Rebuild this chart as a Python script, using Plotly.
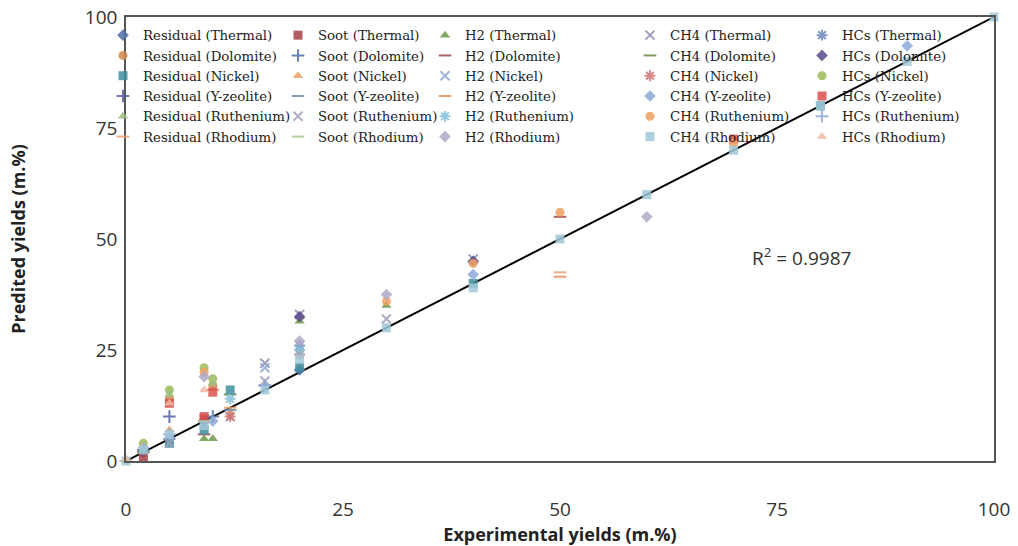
import plotly.graph_objects as go

catalysts = ["Thermal", "Dolomite", "Nickel", "Y-zeolite", "Ruthenium", "Rhodium"]
products = ["Residual", "Soot", "H2", "CH4", "HCs"]

# experimental (x) and predicted (y) yields per series, m.%
series_x = {
    "Residual (Thermal)": [9, 20, 2],
    "Soot (Thermal)": [2, 9],
    "H2 (Thermal)": [9, 10, 20, 30],
    "CH4 (Thermal)": [16, 20, 40],
    "HCs (Thermal)": [20, 5],
    "Residual (Dolomite)": [5, 10],
    "Soot (Dolomite)": [10, 2],
    "H2 (Dolomite)": [9, 50],
    "CH4 (Dolomite)": [2, 12],
    "HCs (Dolomite)": [20, 40],
    "Residual (Nickel)": [5, 9, 12, 20, 40, 80],
    "Soot (Nickel)": [5, 12],
    "H2 (Nickel)": [16, 12],
    "CH4 (Nickel)": [12, 20],
    "HCs (Nickel)": [2, 5, 9, 10],
    "Residual (Y-zeolite)": [5, 16],
    "Soot (Y-zeolite)": [5, 12],
    "H2 (Y-zeolite)": [50, 10],
    "CH4 (Y-zeolite)": [10, 40, 90],
    "HCs (Y-zeolite)": [5, 9, 10, 70],
    "Residual (Ruthenium)": [5, 10],
    "Soot (Ruthenium)": [5, 16, 30],
    "H2 (Ruthenium)": [12, 20],
    "CH4 (Ruthenium)": [9, 30, 40, 50, 70],
    "HCs (Ruthenium)": [16, 5],
    "Residual (Rhodium)": [0, 12, 50],
    "Soot (Rhodium)": [0, 9],
    "H2 (Rhodium)": [2, 9, 20, 30, 60],
    "CH4 (Rhodium)": [0, 2, 5, 9, 16, 20, 30, 40, 50, 60, 70, 80, 90, 100],
    "HCs (Rhodium)": [0, 9, 5],
}
series_y = {
    "Residual (Thermal)": [9, 20.5, 2],
    "Soot (Thermal)": [1, 9.5],
    "H2 (Thermal)": [5, 5, 31.5, 35],
    "CH4 (Thermal)": [22, 33, 45.5],
    "HCs (Thermal)": [26, 5],
    "Residual (Dolomite)": [14, 17],
    "Soot (Dolomite)": [10, 2.5],
    "H2 (Dolomite)": [6, 55],
    "CH4 (Dolomite)": [2, 15],
    "HCs (Dolomite)": [32.5, 45],
    "Residual (Nickel)": [4, 7, 16, 21, 40, 80],
    "Soot (Nickel)": [7, 11],
    "H2 (Nickel)": [21, 10],
    "CH4 (Nickel)": [10, 24],
    "HCs (Nickel)": [4, 16, 21, 18.5],
    "Residual (Y-zeolite)": [10, 17],
    "Soot (Y-zeolite)": [5, 11.5],
    "H2 (Y-zeolite)": [41.5, 16],
    "CH4 (Y-zeolite)": [9, 42, 93.5],
    "HCs (Y-zeolite)": [13, 10, 15.5, 72.5],
    "Residual (Ruthenium)": [15, 17.5],
    "Soot (Ruthenium)": [4, 18, 32],
    "H2 (Ruthenium)": [14, 25],
    "CH4 (Ruthenium)": [20, 36, 44.5, 56, 71.5],
    "HCs (Ruthenium)": [17, 6],
    "Residual (Rhodium)": [0, 12, 42.5],
    "Soot (Rhodium)": [0, 9],
    "H2 (Rhodium)": [3, 19, 27, 37.5, 55],
    "CH4 (Rhodium)": [0, 2.5, 6, 8, 16, 23, 30, 39, 50, 60, 70, 80, 90, 100],
    "HCs (Rhodium)": [0.5, 16, 13],
}

symbols = {
    "Residual (Thermal)": "diamond", "Soot (Thermal)": "square", "H2 (Thermal)": "triangle-up",
    "CH4 (Thermal)": "x-thin-open", "HCs (Thermal)": "asterisk-open",
    "Residual (Dolomite)": "circle", "Soot (Dolomite)": "cross-thin-open", "H2 (Dolomite)": "line-ew-open",
    "CH4 (Dolomite)": "line-ew-open", "HCs (Dolomite)": "diamond",
    "Residual (Nickel)": "square", "Soot (Nickel)": "triangle-up", "H2 (Nickel)": "x-thin-open",
    "CH4 (Nickel)": "asterisk-open", "HCs (Nickel)": "circle",
    "Residual (Y-zeolite)": "cross-thin-open", "Soot (Y-zeolite)": "line-ew-open", "H2 (Y-zeolite)": "line-ew-open",
    "CH4 (Y-zeolite)": "diamond", "HCs (Y-zeolite)": "square",
    "Residual (Ruthenium)": "triangle-up", "Soot (Ruthenium)": "x-thin-open", "H2 (Ruthenium)": "asterisk-open",
    "CH4 (Ruthenium)": "circle", "HCs (Ruthenium)": "cross-thin-open",
    "Residual (Rhodium)": "line-ew-open", "Soot (Rhodium)": "line-ew-open", "H2 (Rhodium)": "diamond",
    "CH4 (Rhodium)": "square", "HCs (Rhodium)": "triangle-up",
}
colors = {
    "Residual (Thermal)": "#4F6FA8", "Soot (Thermal)": "#A33F45", "H2 (Thermal)": "#6F9A4A",
    "CH4 (Thermal)": "#8E8EB0", "HCs (Thermal)": "#6F86B8",
    "Residual (Dolomite)": "#D08A50", "Soot (Dolomite)": "#4F6FA8", "H2 (Dolomite)": "#A04848",
    "CH4 (Dolomite)": "#6F8A40", "HCs (Dolomite)": "#5A4A8A",
    "Residual (Nickel)": "#3F8FA0", "Soot (Nickel)": "#E8A060", "H2 (Nickel)": "#8FA8D0",
    "CH4 (Nickel)": "#D07070", "HCs (Nickel)": "#9BBB59",
    "Residual (Y-zeolite)": "#5060A0", "Soot (Y-zeolite)": "#7090B0", "H2 (Y-zeolite)": "#E89050",
    "CH4 (Y-zeolite)": "#8FA8D8", "HCs (Y-zeolite)": "#D85050",
    "Residual (Ruthenium)": "#9BC080", "Soot (Ruthenium)": "#A0A0B8", "H2 (Ruthenium)": "#80C0D8",
    "CH4 (Ruthenium)": "#F0A060", "HCs (Ruthenium)": "#8FA8D8",
    "Residual (Rhodium)": "#E8A070", "Soot (Rhodium)": "#A8C890", "H2 (Rhodium)": "#B0A8C8",
    "CH4 (Rhodium)": "#A0C8D8", "HCs (Rhodium)": "#F0B8A0",
}

trend_slope = 1.0
trend_intercept = 0.0
trend_x = [0, 100]
r2_text = "R<sup>2</sup> = 0.9987"

x_ticks = [0, 25, 50, 75, 100]
y_ticks = [0, 25, 50, 75, 100]

# layout geometry (pixels)
W, H = 1018, 546
ML, MR, MT, MB = 126, 24, 17, 85
PW = W - ML - MR
PH = H - MT - MB
col_text_px = [143, 318, 465, 670, 842]
legend_top_px = 20

fig = go.Figure()

fig.add_trace(go.Scatter(
    x=trend_x, y=[trend_slope * v + trend_intercept for v in trend_x],
    mode="lines", line=dict(color="black", width=2), showlegend=False, hoverinfo="skip"))

for ci, cat in enumerate(catalysts):
    for pi, prod in enumerate(products):
        name = f"{prod} ({cat})"
        sym = symbols[name]
        is_open = sym.endswith("-open")
        fig.add_trace(go.Scatter(
            x=series_x[name], y=series_y[name], mode="markers", name=name,
            legend="legend" if pi == 0 else f"legend{pi+1}", cliponaxis=False,
            marker=dict(symbol=sym, size=9, color=colors[name], opacity=0.85,
                        line=dict(color=colors[name], width=2 if is_open else 0)),
        ))

legend_common = dict(
    bgcolor="rgba(0,0,0,0)", borderwidth=0,
    font=dict(family="DejaVu Serif", size=13.3, color="#222222"),
    orientation="v", yanchor="top", xanchor="left", itemwidth=30,
    y=1 - (legend_top_px - MT) / PH,
)
for pi in range(5):
    key = "legend" if pi == 0 else f"legend{pi+1}"
    fig.update_layout({key: dict(legend_common, x=(col_text_px[pi] - 40 - ML) / PW)})

fig.add_annotation(x=77.8, y=46, xref="x", yref="y", text=r2_text, showarrow=False,
                   font=dict(family="Open Sans", size=19, color="#333333"))

axis_common = dict(showgrid=False, zeroline=False, showline=True, mirror=True,
                   linecolor="#555555", linewidth=1.5, ticks="", automargin=False,
                   tickfont=dict(family="Open Sans", size=19, color="#333333"))
fig.update_xaxes(axis_common, range=[0, 100], tickvals=x_ticks, ticklabelstandoff=30,
                 title=dict(text="<b>Experimental yields (m.%)</b>",
                            font=dict(family="Open Sans", size=18, color="#222222"), standoff=8))
fig.update_yaxes(axis_common, range=[0, 100], tickvals=y_ticks, ticklabelstandoff=3,
                 title=dict(text="<b>Predited yields (m.%)</b>",
                            font=dict(family="Open Sans", size=18, color="#222222"), standoff=55))

fig.update_layout(width=W, height=H, margin=dict(l=ML, r=MR, t=MT, b=MB, autoexpand=False),
                  plot_bgcolor="white", paper_bgcolor="white")

fig.write_html("out.html")
